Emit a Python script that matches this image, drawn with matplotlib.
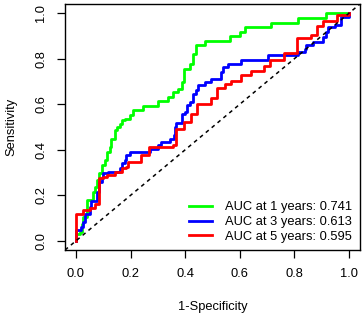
"""
Time-dependent ROC curves (1, 3 and 5 years) in base-R style.
Writes: out.png
"""

import matplotlib
matplotlib.use("Agg")
import matplotlib.pyplot as plt

# ── Data: step vertices (fpr, tpr) ─────────────────────────────────────────
fpr_1y = [0.000, 0.000, 0.015, 0.021, 0.027, 0.039, 0.063, 0.070, 0.076, 0.085,
          0.094, 0.106, 0.115, 0.124, 0.130, 0.143, 0.149, 0.161, 0.167, 0.179,
          0.198, 0.210, 0.246, 0.301, 0.338, 0.356, 0.374, 0.387, 0.396, 0.417,
          0.429, 0.441, 0.472, 0.563, 0.600, 0.618, 0.716, 0.813, 0.917, 1.000]
tpr_1y = [0.000, 0.032, 0.040, 0.076, 0.105, 0.178, 0.215, 0.237, 0.266, 0.296,
          0.332, 0.354, 0.390, 0.412, 0.449, 0.486, 0.500, 0.515, 0.530, 0.537,
          0.551, 0.573, 0.591, 0.614, 0.632, 0.654, 0.668, 0.697, 0.756, 0.778,
          0.822, 0.858, 0.877, 0.898, 0.917, 0.939, 0.956, 0.980, 1.000, 1.000]

fpr_3y = [0.000, 0.000, 0.017, 0.027, 0.033, 0.051, 0.057, 0.076, 0.085, 0.094,
          0.100, 0.118, 0.161, 0.167, 0.179, 0.185, 0.198, 0.271, 0.301, 0.313,
          0.344, 0.359, 0.362, 0.368, 0.387, 0.399, 0.405, 0.417, 0.427, 0.441,
          0.447, 0.472, 0.496, 0.530, 0.539, 0.557, 0.606, 0.704, 0.813, 0.838,
          0.844, 0.868, 0.905, 0.915, 0.923, 0.948, 0.972, 1.000]
tpr_3y = [0.000, 0.047, 0.061, 0.083, 0.120, 0.149, 0.175, 0.215, 0.259, 0.274,
          0.296, 0.303, 0.318, 0.340, 0.354, 0.376, 0.390, 0.405, 0.420, 0.434,
          0.446, 0.464, 0.500, 0.518, 0.559, 0.566, 0.595, 0.610, 0.646, 0.661,
          0.683, 0.697, 0.712, 0.741, 0.763, 0.778, 0.792, 0.814, 0.829, 0.844,
          0.858, 0.875, 0.895, 0.917, 0.939, 0.950, 0.985, 1.000]

fpr_5y = [0.000, 0.000, 0.027, 0.051, 0.070, 0.084, 0.100, 0.112, 0.143, 0.167,
          0.185, 0.191, 0.240, 0.268, 0.355, 0.368, 0.395, 0.420, 0.444, 0.494,
          0.518, 0.545, 0.567, 0.606, 0.640, 0.688, 0.712, 0.761, 0.810, 0.862,
          0.883, 0.905, 0.956, 1.000]
tpr_5y = [0.000, 0.116, 0.135, 0.146, 0.164, 0.274, 0.281, 0.288, 0.303, 0.318,
          0.325, 0.347, 0.376, 0.412, 0.420, 0.490, 0.520, 0.559, 0.600, 0.629,
          0.673, 0.690, 0.704, 0.727, 0.748, 0.766, 0.796, 0.825, 0.891, 0.902,
          0.942, 0.965, 0.990, 1.000]

years = [1, 3, 5]
aucs = [0.741, 0.613, 0.595]

# ── Style ──────────────────────────────────────────────────────────────────
COLORS = ["#00FF00", "#0000FF", "#FF0000"]
FONTSIZE = 9.3
LINE_WIDTH = 2.0

plt.rcParams["font.family"] = ["Liberation Sans", "DejaVu Sans"]


def main():
    fig = plt.figure(figsize=(3.63, 3.16), dpi=100)
    ax = fig.add_axes([65 / 363, 66 / 316, 295 / 363, 246 / 316])

    curves = [(fpr_1y, tpr_1y), (fpr_3y, tpr_3y), (fpr_5y, tpr_5y)]
    for (fpr, tpr), yr, auc, col in zip(curves, years, aucs, COLORS):
        ax.plot(fpr, tpr, drawstyle="steps-post", color=col, lw=LINE_WIDTH,
                label=f"AUC at {yr} years: {auc:.3f}")

    # reference diagonal across the whole plot region
    ax.plot([-0.04, 1.04], [-0.04, 1.04], color="black", lw=1.1,
            linestyle=(0, (2.5, 2.5)))

    ax.set_xlim(-0.04, 1.04)
    ax.set_ylim(-0.04, 1.04)
    ticks = [0.0, 0.2, 0.4, 0.6, 0.8, 1.0]
    ax.set_xticks(ticks)
    ax.set_yticks(ticks)
    ax.set_xticklabels([f"{t:.1f}" for t in ticks], fontsize=FONTSIZE)
    ax.set_yticklabels([f"{t:.1f}" for t in ticks], fontsize=FONTSIZE,
                       rotation=90, va="center")
    ax.tick_params(length=5.8, width=0.9, pad=7, color="black")

    ax.set_xlabel("1-Specificity", fontsize=FONTSIZE, labelpad=15)
    ax.set_ylabel("Sensitivity", fontsize=FONTSIZE, labelpad=12.5)

    for sp in ax.spines.values():
        sp.set_linewidth(1.0)

    ax.legend(loc="lower right", bbox_to_anchor=(352 / 363, 1 - 243 / 316),
              bbox_transform=fig.transFigure, frameon=False,
              fontsize=FONTSIZE, handlelength=1.75, handletextpad=1.0,
              labelspacing=0.22, borderpad=0, borderaxespad=0)

    fig.savefig("out.png", dpi=100)
    plt.close(fig)


if __name__ == "__main__":
    main()
